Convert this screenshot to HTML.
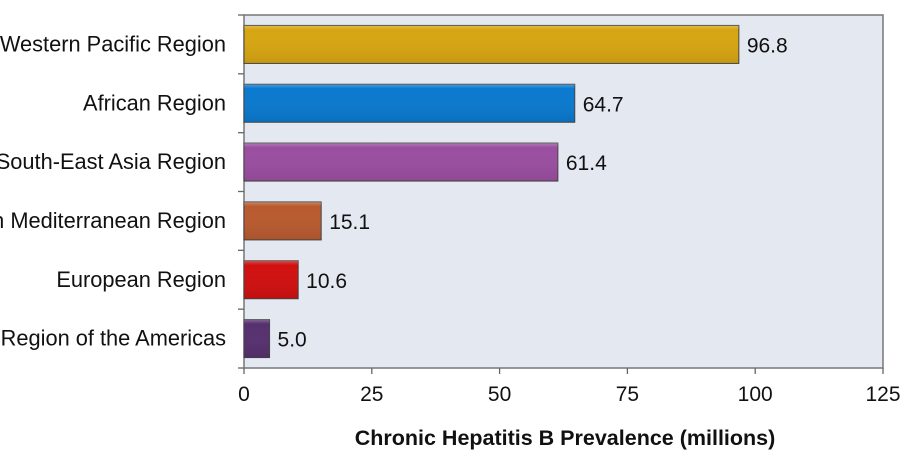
<!DOCTYPE html>
<html><head><meta charset="utf-8"><style>
body{margin:0;background:#fff;width:916px;height:470px;overflow:hidden}
svg{display:block;font-family:"Liberation Sans",Arial,sans-serif}
</style></head><body>
<svg id="c" width="916" height="470">
<defs><linearGradient id="sh" x1="0" y1="0" x2="0" y2="1"><stop offset="0" stop-color="#fff" stop-opacity="0.25"/><stop offset="0.12" stop-color="#fff" stop-opacity="0"/><stop offset="1" stop-color="#000" stop-opacity="0.08"/></linearGradient></defs>
</svg>
<script>
const categories=["Western Pacific Region","African Region","South-East Asia Region","Eastern Mediterranean Region","European Region","Region of the Americas"];
const values=[96.8,64.7,61.4,15.1,10.6,5.0];
const colors=["#d6a511","#0a79cf","#9a4ea0","#b95a2f","#d0100f","#57306f"];
const ticks=[0,25,50,75,100,125];
const NS="http://www.w3.org/2000/svg",svg=document.getElementById('c');
const L=244,R=883,T=15,B=368,band=(B-T)/categories.length,bh=38;
const x=v=>L+v/125*(R-L);
function mk(t,a,p){const e=document.createElementNS(NS,t);for(const k in a)e.setAttribute(k,a[k]);(p||svg).appendChild(e);return e;}
const bg=mk('rect',{x:L,y:T,width:R-L,height:B-T,fill:'#e4e8f1',stroke:'#777','stroke-width':1.5});


for(let i=0;i<=categories.length;i++){const tk=mk('line',{x1:L-6,x2:L,y1:T+i*band,y2:T+i*band,stroke:'#666','stroke-width':1.3});

}
ticks.forEach(t=>{const l=mk('line',{x1:x(t),x2:x(t),y1:B,y2:B+6,stroke:'#666','stroke-width':1.3});


const tx=mk('text',{x:x(t),y:B+33,'text-anchor':'middle','font-size':21,fill:'#111'});tx.textContent=t;

});
categories.forEach((c,i)=>{const cy=T+band*(i+0.5);
const lb=mk('text',{x:226,y:cy+7,'text-anchor':'end','font-size':21.8,fill:'#111'});lb.textContent=c;


const b=mk('rect',{x:L,y:cy-bh/2,width:x(values[i])-L,height:bh,fill:colors[i],stroke:'#444','stroke-width':1});


mk('rect',{x:L,y:cy-bh/2,width:x(values[i])-L,height:bh,fill:'url(#sh)'});
const v=mk('text',{x:x(values[i])+8,y:cy+8,'font-size':21,fill:'#111'});v.textContent=values[i].toFixed(1);

});
const at=mk('text',{x:565,y:445,'text-anchor':'middle','font-size':21.5,'font-weight':'bold',fill:'#111'});at.textContent="Chronic Hepatitis B Prevalence (millions)";


</script>
</body></html>
